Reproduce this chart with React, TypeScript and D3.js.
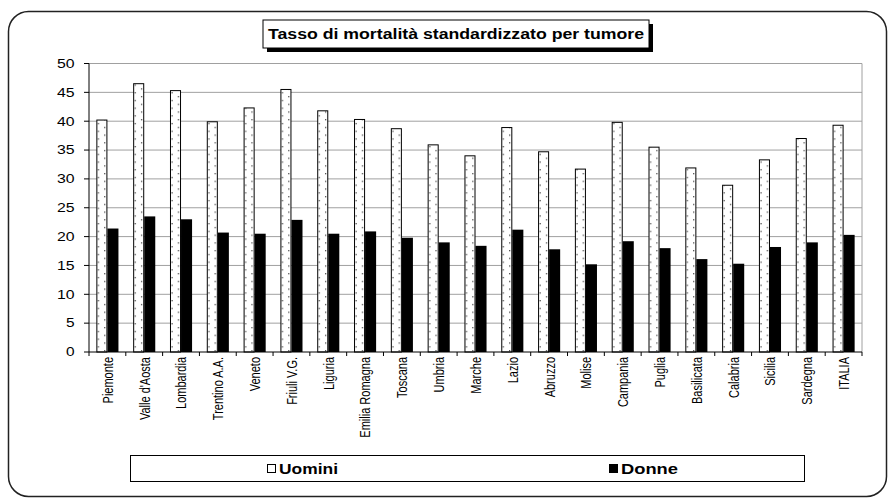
import React, { useEffect, useRef } from "react";
import * as d3 from "d3";

const categories = [
  "Piemonte", "Valle d'Aosta", "Lombardia", "Trentino A.A.", "Veneto", "Friuli V.G.",
  "Liguria", "Emilia Romagna", "Toscana", "Umbria", "Marche", "Lazio", "Abruzzo",
  "Molise", "Campania", "Puglia", "Basilicata", "Calabria", "Sicilia", "Sardegna", "ITALIA",
];
const uomini = [40.2, 46.5, 45.3, 39.9, 42.3, 45.5, 41.8, 40.3, 38.7, 35.9, 34.0, 38.9, 34.7, 31.7, 39.8, 35.5, 31.9, 28.9, 33.3, 37.0, 39.3];
const donne = [21.4, 23.5, 23.0, 20.7, 20.5, 22.9, 20.5, 20.9, 19.8, 19.0, 18.4, 21.2, 17.8, 15.2, 19.2, 18.0, 16.1, 15.3, 18.2, 19.0, 20.3];
const yTicks = [0, 5, 10, 15, 20, 25, 30, 35, 40, 45, 50];
const seriesNames = ["Uomini", "Donne"];
const title = "Tasso di mortalità standardizzato per tumore";

const W = 895;
const H = 504;
const FONT = "'Liberation Sans', Arial, sans-serif";

export default function App() {
  const ref = useRef<SVGSVGElement>(null);

  useEffect(() => {
    const svg = d3.select(ref.current);
    svg.selectAll("*").remove();

    const left = 89, right = 862, top = 63.5, bottom = 352;
    const x = d3.scaleBand<string>().domain(categories).range([left, right]).paddingInner(0.4).paddingOuter(0.2);
    const xs = d3.scaleBand<string>().domain(seriesNames).range([0, x.bandwidth()]).padding(0);
    const y = d3.scaleLinear().domain([0, 50]).range([bottom, top]);

    const defs = svg.append("defs");

    // outer frame
    svg.append("rect")
      .attr("x", 8.5).attr("y", 11.5).attr("width", 878).attr("height", 485)
      .attr("rx", 20).attr("ry", 20)
      .attr("fill", "#fff").attr("stroke", "#222").attr("stroke-width", 1.5);

    // gridlines
    svg.append("g").selectAll("line").data(yTicks.filter((t) => t > 0)).join("line")
      .attr("x1", left).attr("x2", right)
      .attr("y1", (d) => y(d)).attr("y2", (d) => y(d))
      .attr("stroke", "#a0a0a0").attr("stroke-width", 1);
    svg.append("line").attr("x1", right).attr("x2", right).attr("y1", top).attr("y2", bottom)
      .attr("stroke", "#a0a0a0");

    // dotted patterns for Uomini bars
    categories.forEach((c, i) => {
      const bx = (x(c) as number) + (xs("Uomini") as number);
      const p = defs.append("pattern")
        .attr("id", "dots" + i)
        .attr("patternUnits", "userSpaceOnUse")
        .attr("x", bx).attr("y", bottom)
        .attr("width", 12.6).attr("height", 7.7);
      p.append("rect").attr("width", 12.6).attr("height", 7.7).attr("fill", "#fff");
      p.append("rect").attr("x", 1.5).attr("y", 2).attr("width", 1.2).attr("height", 1.2).attr("fill", "#333");
      p.append("rect").attr("x", 7.8).attr("y", 5.85).attr("width", 1.2).attr("height", 1.2).attr("fill", "#333");
    });

    const gBars = svg.append("g");
    gBars.selectAll("rect.u").data(uomini).join("rect")
      .attr("class", "u")
      .attr("x", (_d, i) => (x(categories[i]) as number) + (xs("Uomini") as number) + 0.5)
      .attr("y", (d) => y(d))
      .attr("width", xs.bandwidth() - 1)
      .attr("height", (d) => bottom - y(d))
      .attr("fill", (_d, i) => `url(#dots${i})`)
      .attr("stroke", "#000").attr("stroke-width", 1);
    gBars.selectAll("rect.d").data(donne).join("rect")
      .attr("class", "d")
      .attr("x", (_d, i) => (x(categories[i]) as number) + (xs("Donne") as number))
      .attr("y", (d) => y(d))
      .attr("width", xs.bandwidth())
      .attr("height", (d) => bottom - y(d))
      .attr("fill", "#000");

    // y axis
    svg.append("line").attr("x1", left).attr("x2", left).attr("y1", top).attr("y2", bottom)
      .attr("stroke", "#000");
    const gy = svg.append("g");
    gy.selectAll("line").data(yTicks).join("line")
      .attr("x1", left - 5).attr("x2", left)
      .attr("y1", (d) => y(d)).attr("y2", (d) => y(d))
      .attr("stroke", "#000");
    gy.selectAll("text").data(yTicks).join("text")
      .attr("x", 74.5).attr("y", (d) => y(d))
      .attr("dy", "0.36em")
      .attr("text-anchor", "end")
      .attr("font-family", FONT).attr("font-size", 12)
      .attr("textLength", (d) => (String(d).length === 1 ? 8.6 : 17.6))
      .attr("lengthAdjust", "spacingAndGlyphs")
      .attr("fill", "#000")
      .text((d) => d);

    // x axis
    svg.append("line").attr("x1", left).attr("x2", right).attr("y1", bottom).attr("y2", bottom)
      .attr("stroke", "#000");
    const step = x.step();
    const bounds = d3.range(categories.length + 1).map((i) => left + i * step);
    svg.append("g").selectAll("line").data(bounds).join("line")
      .attr("x1", (d) => d).attr("x2", (d) => d)
      .attr("y1", bottom).attr("y2", bottom + 4)
      .attr("stroke", "#000");
    svg.append("g").selectAll("text").data(categories).join("text")
      .attr("transform", (d) => `translate(${(x(d) as number) + x.bandwidth() / 2},${bottom + 5}) rotate(-90) scale(1,1.4)`)
      .attr("dy", "0.35em")
      .attr("text-anchor", "end")
      .attr("font-family", FONT).attr("font-size", 11)
      .attr("fill", "#000")
      .text((d) => d);

    // title box
    svg.append("rect").attr("x", 267).attr("y", 24).attr("width", 386).attr("height", 28).attr("fill", "#000");
    svg.append("rect").attr("x", 263).attr("y", 20).attr("width", 386).attr("height", 28)
      .attr("fill", "#fff").attr("stroke", "#000").attr("stroke-width", 1);
    svg.append("text").attr("x", 268).attr("y", 34).attr("dy", "0.36em")
      .attr("font-family", FONT).attr("font-weight", "bold").attr("font-size", 14)
      .attr("textLength", 376).attr("lengthAdjust", "spacingAndGlyphs")
      .text(title);

    // legend
    svg.append("rect").attr("x", 130.5).attr("y", 455.5).attr("width", 674).attr("height", 26)
      .attr("fill", "#fff").attr("stroke", "#000").attr("stroke-width", 1);
    const legendX = [267, 609];
    const legendLen = [59, 57];
    const gl = svg.append("g");
    seriesNames.forEach((s, i) => {
      gl.append("rect").attr("x", legendX[i] + 0.5).attr("y", 464.5).attr("width", 8).attr("height", 8)
        .attr("fill", i === 0 ? "#fff" : "#000").attr("stroke", "#000");
      gl.append("text").attr("x", legendX[i] + 12).attr("y", 468.5).attr("dy", "0.36em")
        .attr("font-family", FONT).attr("font-weight", "bold").attr("font-size", 14)
        .attr("textLength", legendLen[i]).attr("lengthAdjust", "spacingAndGlyphs")
        .text(s);
    });
  }, []);

  return (
    <svg ref={ref} width={W} height={H} style={{ position: "absolute", left: 0, top: 0, background: "#fff" }} />
  );
}
